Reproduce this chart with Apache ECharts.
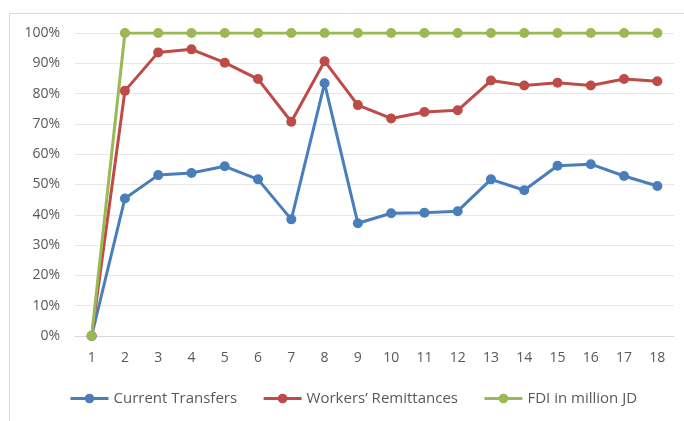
<!DOCTYPE html>
<html><head><meta charset="utf-8">
<script src="https://cdn.jsdelivr.net/npm/echarts@6/dist/echarts.min.js"></script>
<style>html,body{margin:0;padding:0;background:#fff}#c{width:684px;height:421px}</style>
</head><body><div id="c"></div>
<script>
const categories = ['1','2','3','4','5','6','7','8','9','10','11','12','13','14','15','16','17','18'];
const currentTransfers = [0, 45.4, 53.1, 53.8, 56.0, 51.7, 38.5, 83.4, 37.2, 40.5, 40.7, 41.2, 51.7, 48.1, 56.2, 56.7, 52.8, 49.5];
const workersRemittances = [0, 80.9, 93.6, 94.6, 90.2, 84.8, 70.7, 90.7, 76.2, 71.8, 73.9, 74.5, 84.3, 82.7, 83.6, 82.7, 84.8, 84.1];
const fdi = [0, 100, 100, 100, 100, 100, 100, 100, 100, 100, 100, 100, 100, 100, 100, 100, 100, 100];
const seriesNames = ['Current Transfers', 'Workers\u2019 Remittances', 'FDI in million JD'];
const colors = ['#4A7EBB', '#BE4B48', '#98B954'];

const chart = echarts.init(document.getElementById('c'));
const font = '"Open Sans", "Liberation Sans", sans-serif';
function mk(name, data, color) {
  return {
    name, type: 'line', data, color,
    symbol: 'circle', symbolSize: 10,
    lineStyle: { width: 3, color },
    itemStyle: { color },
    animation: false
  };
}
chart.setOption({
  animation: false,
  graphic: [{
    type: 'rect', shape: { x: 9.5, y: 13.5, width: 700, height: 420 },
    style: { fill: 'none', stroke: '#d9d9d9', lineWidth: 1 }, z: -1
  }],
  grid: { left: 75, right: 10, top: 33, bottom: 85 },
  legend: {
    left: 64, top: 386, itemWidth: 38, itemHeight: 12, itemGap: 25,
    lineStyle: { width: 3 },
    textStyle: { color: '#595959', fontSize: 15, fontFamily: font },
    data: seriesNames
  },
  xAxis: {
    type: 'category', data: categories, boundaryGap: true,
    axisLine: { lineStyle: { color: '#d9d9d9' } },
    axisTick: { show: false },
    axisLabel: { color: '#595959', fontSize: 14, fontFamily: font, margin: 15 }
  },
  yAxis: {
    type: 'value', min: 0, max: 100, interval: 10,
    axisLine: { show: false }, axisTick: { show: false },
    splitLine: { lineStyle: { color: '#e6e6e6' } },
    axisLabel: { color: '#595959', fontSize: 14, fontFamily: font, margin: 15, formatter: '{value}%' }
  },
  series: [
    mk(seriesNames[0], currentTransfers, colors[0]),
    mk(seriesNames[1], workersRemittances, colors[1]),
    mk(seriesNames[2], fdi, colors[2])
  ]
});
</script></body></html>
